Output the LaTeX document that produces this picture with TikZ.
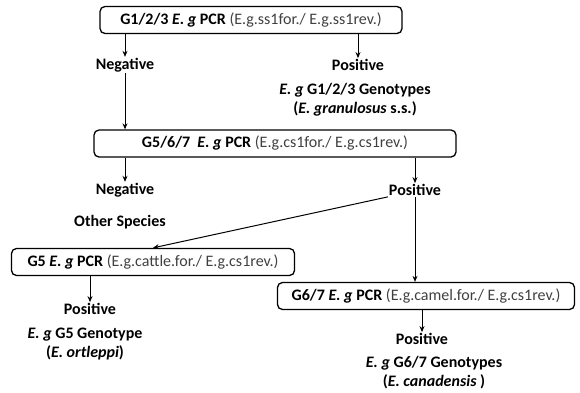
\documentclass[tikz,border=0pt]{standalone}
\usepackage{fontspec}
\setmainfont{Carlito}
\usepackage{color}
\usetikzlibrary{arrows.meta}

\newcommand{\picfont}{\fontsize{16}{19}\selectfont}
\tikzset{
  pcrbox/.style={draw, line width=1.3pt, rounded corners=5pt, minimum height=27pt, inner xsep=4pt},
  lbl/.style={font=\picfont\bfseries, inner sep=1pt, align=center},
  link/.style={line width=1pt, -{Stealth[length=6pt,width=5pt]}}
}
\newcommand{\Eg}{\textit{E.\ g}}
\newcommand{\primer}[1]{{\mdseries\color{black!75}#1}}

\begin{document}
\begin{tikzpicture}[x=1pt, y=-1pt, font=\picfont]
\useasboundingbox (0,0) rectangle (580,392);
%% first PCR
\node[pcrbox, minimum width=302pt] (pcrA) at (251,20) {\textbf{G1/2/3 \Eg\ PCR} \primer{(E.g.ss1for./ E.g.ss1rev.)}};
\node[lbl] (negA) at (125,65) {Negative};
\node[lbl] (posA) at (358,65) {Positive};
\node[lbl] (genA) at (355,100) {\Eg\ G1/2/3 Genotypes\\(\textit{E. granulosus} s.s.)};
%% second PCR
\node[pcrbox, minimum width=362pt] (pcrB) at (275,143.5) {\textbf{G5/6/7 \ \Eg\ PCR} \primer{(E.g.cs1for./ E.g.cs1rev.)}};
\node[lbl] (negB) at (125,190) {Negative};
\node[lbl] (posB) at (415,190) {Positive};
\node[lbl] (other) at (120,222) {Other Species};
%% G5 and G6/7 PCR
\node[pcrbox, minimum width=283pt] (pcrC) at (153,262) {\textbf{G5 \Eg\ PCR} \primer{(E.g.cattle.for./ E.g.cs1rev.)}};
\node[lbl] (posC) at (90,309) {Positive};
\node[lbl] (genC) at (85,344) {\Eg\ G5 Genotype\\(\textit{E. ortleppi})};
\node[pcrbox, minimum width=297pt] (pcrD) at (426,296) {\textbf{G6/7 \Eg\ PCR} \primer{(E.g.camel.for./ E.g.cs1rev.)}};
\node[lbl] (posD) at (422,339) {Positive};
\node[lbl] (genD) at (434,373) {\Eg\ G6/7 Genotypes\\(\textit{E. canadensis} )};
%%------------
\draw[link] (pcrA.south -| negA) -- (negA.north);
\draw[link] (pcrA.south -| posA) -- (posA.north);
\draw[link] (negA.south) -- (negA |- pcrB.north);
\draw[link] (pcrB.south -| negB) -- (negB.north);
\draw[link] (pcrB.south -| posB) -- (posB.north);
\draw[link] (posB.south west) -- (pcrC.north);
\draw[link] (posB.south) -- (posB.south |- pcrD.north);
\draw[link] (pcrC.south -| posC) -- (posC.north);
\draw[link] (pcrD.south -| posD) -- (posD.north);
\end{tikzpicture}
\end{document}
